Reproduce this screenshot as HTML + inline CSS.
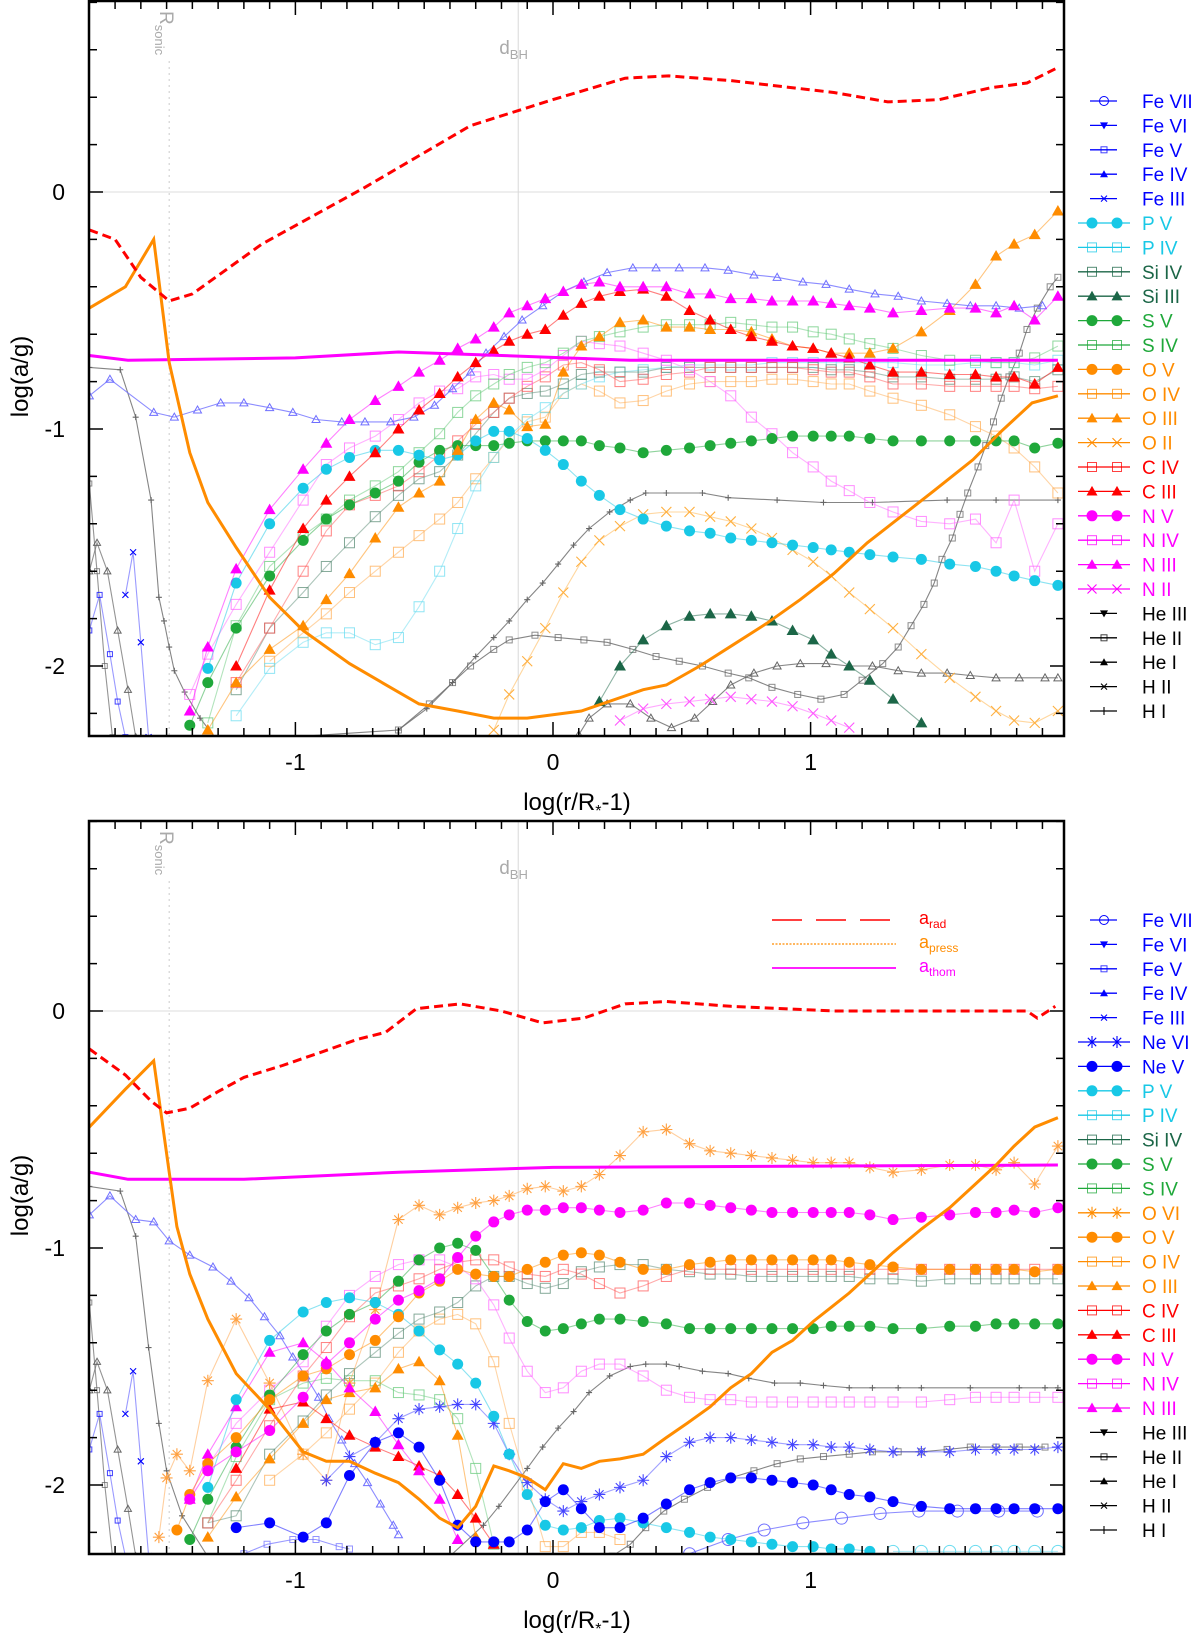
<!DOCTYPE html>
<html><head><meta charset="utf-8"><title>log(a/g) vs log(r/R*-1)</title>
<style>
html,body{margin:0;padding:0;background:#fff;}
svg{display:block;font-family:"Liberation Sans",Arial,sans-serif;}
</style></head>
<body>
<svg id="chart" xmlns="http://www.w3.org/2000/svg" width="1200" height="1636" viewBox="0 0 1200 1636">
<rect x="0" y="0" width="1200" height="1636" fill="#fff"/>
</svg>
<script>
// ---------- DATA (log(r/R*-1), log(a/g)) ----------
const GRID = [-1.41,-1.34,-1.23,-1.10,-0.97,-0.88,-0.79,-0.69,-0.60,-0.52,-0.44,-0.37,-0.30,-0.23,-0.17,-0.10,-0.03,0.04,0.11,0.18,0.26,0.35,0.44,0.53,0.61,0.69,0.77,0.85,0.93,1.01,1.08,1.15,1.23,1.32,1.43,1.54,1.64,1.72,1.79,1.87,1.96];
const X_TICKS = [-1,0,1];
const X_TICK_LABELS = ["-1","0","1"];
const Y_TICKS = [0,-1,-2];
const Y_TICK_LABELS = ["0","-1","-2"];

// top panel
const T_ARAD_X = [-1.80,-1.70,-1.60,-1.49,-1.40,-1.13,-0.73,-0.32,0,0.28,0.45,0.69,1.09,1.30,1.50,1.70,1.84,1.95];
const T_ARAD_Y = [-0.16,-0.20,-0.36,-0.46,-0.43,-0.22,0.02,0.28,0.39,0.48,0.49,0.47,0.42,0.38,0.39,0.44,0.46,0.52];
const T_APRESS_X = [-1.80,-1.66,-1.55,-1.49,-1.41,-1.34,-1.23,-1.10,-0.97,-0.79,-0.60,-0.52,-0.37,-0.23,-0.10,0.11,0.35,0.44,0.57,0.70,0.83,0.96,1.09,1.22,1.35,1.48,1.63,1.74,1.86,1.96];
const T_APRESS_Y = [-0.49,-0.40,-0.20,-0.72,-1.10,-1.31,-1.50,-1.71,-1.85,-1.99,-2.11,-2.16,-2.19,-2.22,-2.22,-2.19,-2.10,-2.08,-2.00,-1.91,-1.82,-1.72,-1.61,-1.48,-1.37,-1.26,-1.13,-1.01,-0.89,-0.86];
const T_ATHOM_X = [-1.80,-1.65,-1.0,-0.6,-0.2,0.3,1.96];
const T_ATHOM_Y = [-0.69,-0.71,-0.70,-0.675,-0.69,-0.71,-0.71];
const T_NIII = [-2.19,-1.92,-1.59,-1.34,-1.17,-1.06,-0.96,-0.88,-0.82,-0.76,-0.71,-0.66,-0.62,-0.57,-0.51,-0.48,-0.45,-0.42,-0.39,-0.38,-0.40,-0.40,-0.40,-0.43,-0.43,-0.45,-0.45,-0.46,-0.46,-0.46,-0.47,-0.48,-0.49,-0.51,-0.50,-0.49,-0.49,-0.51,-0.48,-0.54,-0.44];
const T_PV = [null,-2.01,-1.65,-1.40,-1.25,-1.17,-1.12,-1.09,-1.09,-1.11,-1.13,-1.11,-1.05,-1.01,-1.01,-1.04,-1.09,-1.15,-1.22,-1.28,-1.34,-1.38,-1.41,-1.43,-1.44,-1.46,-1.47,-1.48,-1.49,-1.50,-1.51,-1.52,-1.53,-1.54,-1.55,-1.57,-1.58,-1.60,-1.62,-1.64,-1.66];
const T_SV = [-2.25,-2.07,-1.84,-1.62,-1.47,-1.38,-1.32,-1.27,-1.22,-1.14,-1.09,-1.07,-1.07,-1.07,-1.06,-1.05,-1.05,-1.05,-1.05,-1.07,-1.08,-1.10,-1.09,-1.08,-1.07,-1.06,-1.05,-1.04,-1.03,-1.03,-1.03,-1.03,-1.04,-1.05,-1.05,-1.05,-1.05,-1.05,-1.05,-1.08,-1.06];
const T_CIII = [null,null,-2.00,-1.68,-1.42,-1.30,-1.20,-1.10,-1.00,-0.92,-0.85,-0.78,-0.72,-0.67,-0.63,-0.60,-0.58,-0.52,-0.47,-0.44,-0.42,-0.41,-0.44,-0.50,-0.54,-0.58,-0.61,-0.63,-0.65,-0.66,-0.68,-0.70,-0.73,-0.76,-0.76,-0.77,-0.77,-0.78,-0.78,-0.81,-0.74];
const T_OIII = [null,-2.27,-2.07,-1.93,-1.83,-1.72,-1.61,-1.46,-1.33,-1.27,-1.22,-1.09,-0.96,-0.89,-0.92,-0.99,-0.98,-0.76,-0.65,-0.61,-0.55,-0.54,-0.57,-0.57,-0.58,-0.58,-0.59,-0.62,-0.65,-0.66,-0.68,-0.68,-0.68,-0.66,-0.59,-0.50,-0.39,-0.27,-0.22,-0.18,-0.08];
const T_SIV = [null,-2.24,-1.83,-1.58,-1.45,-1.38,-1.30,-1.24,-1.18,-1.10,-1.02,-0.93,-0.86,-0.81,-0.77,-0.74,-0.72,-0.68,-0.63,-0.61,-0.59,-0.57,-0.56,-0.56,-0.56,-0.55,-0.56,-0.57,-0.57,-0.59,-0.60,-0.62,-0.64,-0.66,-0.69,-0.71,-0.71,-0.72,-0.72,-0.70,-0.65];
const T_NIV = [-2.12,-1.95,-1.74,-1.52,-1.30,-1.15,-1.08,-1.03,-0.96,-0.89,-0.84,-0.83,-0.78,-0.77,-0.79,-0.79,-0.75,-0.69,-0.63,-0.64,-0.65,-0.68,-0.71,-0.75,-0.80,-0.86,-0.95,-1.02,-1.10,-1.16,-1.22,-1.26,-1.31,-1.35,-1.39,-1.40,-1.38,-1.48,-1.30,-1.60,-1.40];
const T_CIV = [null,null,-2.07,-1.84,-1.60,-1.43,-1.32,-1.28,-1.24,-1.18,-1.11,-1.05,-0.98,-0.93,-0.87,-0.82,-0.78,-0.73,-0.72,-0.75,-0.80,-0.79,-0.77,-0.76,-0.74,-0.74,-0.74,-0.74,-0.74,-0.75,-0.76,-0.76,-0.78,-0.81,-0.81,-0.82,-0.82,-0.82,-0.82,-0.83,-0.82];
const T_PIV = [null,null,-2.21,-2.01,-1.90,-1.86,-1.86,-1.91,-1.88,-1.75,-1.60,-1.42,-1.24,-1.12,-1.03,-0.96,-0.91,-0.85,-0.81,-0.78,-0.76,-0.75,-0.74,-0.73,-0.73,-0.73,-0.73,-0.72,-0.72,-0.72,-0.72,-0.72,-0.72,-0.72,-0.73,-0.73,-0.72,-0.72,-0.72,-0.73,-0.71];
const T_SIIV = [null,null,-2.10,-1.84,-1.69,-1.58,-1.48,-1.37,-1.28,-1.21,-1.18,-1.11,-1.02,-0.93,-0.87,-0.85,-0.84,-0.81,-0.77,-0.76,-0.76,-0.76,-0.74,-0.74,-0.74,-0.74,-0.74,-0.74,-0.74,-0.74,-0.75,-0.75,-0.76,-0.78,-0.78,-0.79,-0.79,-0.79,-0.78,-0.80,-0.75];
const T_OIV = [null,null,null,-1.98,-1.86,-1.78,-1.69,-1.60,-1.52,-1.45,-1.38,-1.31,-1.21,-1.12,-1.04,-0.97,-0.95,-0.85,-0.81,-0.84,-0.89,-0.88,-0.84,-0.81,-0.80,-0.80,-0.80,-0.79,-0.79,-0.80,-0.81,-0.81,-0.84,-0.87,-0.90,-0.94,-0.99,-1.03,-1.08,-1.16,-1.27];
const T_OII = [null,null,null,null,null,null,null,null,null,null,null,null,null,-2.27,-2.12,-1.98,-1.84,-1.69,-1.56,-1.47,-1.41,-1.36,-1.35,-1.35,-1.37,-1.39,-1.42,-1.46,-1.51,-1.56,-1.62,-1.69,-1.76,-1.84,-1.95,-2.05,-2.13,-2.19,-2.23,-2.24,-2.19];
const T_SIIII = [null,null,null,null,null,null,null,null,null,null,null,null,null,null,null,null,null,null,null,-2.15,-2.00,-1.89,-1.83,-1.79,-1.78,-1.78,-1.79,-1.81,-1.85,-1.89,-1.95,-2.00,-2.06,-2.14,-2.24];
const T_NII = [null,null,null,null,null,null,null,null,null,null,null,null,null,null,null,null,null,null,null,null,-2.23,-2.18,-2.16,-2.15,-2.14,-2.13,-2.14,-2.15,-2.17,-2.20,-2.23,-2.26];
const T_FEIV_X = [-1.80,-1.72,-1.55,-1.47,-1.38,-1.29,-1.20,-1.10,-1.01,-0.92,-0.82,-0.73,-0.63,-0.54,-0.46,-0.39,-0.32,-0.26,-0.19,-0.12,-0.04,0.04,0.12,0.21,0.31,0.40,0.49,0.59,0.68,0.78,0.87,0.97,1.06,1.15,1.25,1.34,1.43,1.53,1.62,1.72,1.81,1.90];
const T_FEIV_Y = [-0.86,-0.79,-0.93,-0.95,-0.92,-0.89,-0.89,-0.91,-0.93,-0.96,-0.97,-0.97,-0.97,-0.95,-0.90,-0.83,-0.76,-0.68,-0.61,-0.54,-0.48,-0.42,-0.38,-0.34,-0.32,-0.32,-0.32,-0.32,-0.33,-0.35,-0.36,-0.38,-0.39,-0.41,-0.43,-0.44,-0.46,-0.47,-0.48,-0.48,-0.49,-0.48];
const T_HI_X = [-1.80,-1.68,-1.62,-1.56,-1.53,-1.51,-1.49,-1.47,-1.43,-1.37,-1.30,-0.60,-0.49,-0.39,-0.30,-0.23,-0.17,-0.10,-0.04,0.02,0.08,0.14,0.22,0.30,0.36,0.44,0.58,0.68,0.87,1.05,1.24,1.53,1.72,1.96];
const T_HI_Y = [-0.74,-0.75,-0.95,-1.30,-1.71,-1.81,-1.92,-2.02,-2.11,-2.22,-2.32,-2.27,-2.18,-2.07,-1.96,-1.88,-1.81,-1.72,-1.65,-1.57,-1.49,-1.42,-1.35,-1.30,-1.27,-1.27,-1.27,-1.29,-1.30,-1.31,-1.31,-1.30,-1.30,-1.30];
const T_HEII_X = [-0.60,-0.48,-0.39,-0.32,-0.23,-0.17,-0.07,0.02,0.12,0.21,0.31,0.40,0.49,0.58,0.68,0.76,0.85,0.95,1.04,1.13,1.20,1.28,1.34,1.39,1.44,1.48,1.51,1.55,1.58,1.61,1.65,1.68,1.71,1.74,1.77,1.81,1.84,1.88,1.93,1.96];
const T_HEII_Y = [-2.27,-2.16,-2.07,-2.00,-1.93,-1.89,-1.87,-1.88,-1.89,-1.90,-1.93,-1.96,-1.98,-2.00,-2.03,-2.05,-2.09,-2.12,-2.14,-2.12,-2.06,-1.99,-1.92,-1.83,-1.74,-1.65,-1.55,-1.46,-1.36,-1.27,-1.16,-1.07,-0.97,-0.87,-0.78,-0.68,-0.58,-0.49,-0.40,-0.36];
const T_HEI_X = [0.10,0.14,0.21,0.30,0.38,0.46,0.55,0.62,0.69,0.78,0.87,0.96,1.06,1.15,1.24,1.34,1.43,1.53,1.62,1.72,1.81,1.91,1.96];
const T_HEI_Y = [-2.29,-2.22,-2.16,-2.16,-2.22,-2.26,-2.22,-2.15,-2.08,-2.03,-2.00,-1.99,-1.99,-2.00,-2.00,-2.02,-2.03,-2.03,-2.04,-2.05,-2.05,-2.05,-2.05];
const T_FEV_X = [-1.80,-1.76,-1.72,-1.69,-1.66];
const T_FEV_Y = [-1.85,-1.70,-1.95,-2.15,-2.30];
const T_FEIII_X = [-1.66,-1.63,-1.60,-1.57];
const T_FEIII_Y = [-1.70,-1.52,-1.90,-2.30];
const T_HEIL_X = [-1.80,-1.77,-1.73,-1.69,-1.65,-1.62];
const T_HEIL_Y = [-1.60,-1.48,-1.60,-1.85,-2.10,-2.30];
const T_HEIIL_X = [-1.80,-1.77,-1.74,-1.71];
const T_HEIIL_Y = [-1.23,-1.60,-2.00,-2.30];

// bottom panel
const B_ARAD_X = [-1.80,-1.66,-1.56,-1.50,-1.41,-1.30,-1.20,-1.05,-0.89,-0.76,-0.65,-0.53,-0.36,-0.20,-0.04,0.12,0.28,0.44,0.69,1.09,1.50,1.84,1.88,1.95];
const B_ARAD_Y = [-0.16,-0.27,-0.38,-0.43,-0.41,-0.34,-0.28,-0.23,-0.17,-0.12,-0.09,0.01,0.03,0.00,-0.05,-0.03,0.03,0.04,0.02,0.00,0.00,0.00,-0.03,0.02];
const B_APRESS_X = [-1.80,-1.66,-1.55,-1.49,-1.46,-1.41,-1.34,-1.23,-1.10,-0.97,-0.88,-0.79,-0.69,-0.60,-0.52,-0.44,-0.37,-0.30,-0.23,-0.17,-0.10,-0.03,0.04,0.11,0.18,0.26,0.35,0.44,0.52,0.61,0.69,0.77,0.85,0.93,1.01,1.08,1.15,1.23,1.32,1.43,1.54,1.64,1.72,1.79,1.87,1.96];
const B_APRESS_Y = [-0.49,-0.33,-0.21,-0.68,-0.91,-1.11,-1.30,-1.53,-1.68,-1.86,-1.90,-1.90,-1.95,-1.99,-2.06,-2.14,-2.18,-2.09,-1.92,-1.94,-1.97,-2.02,-1.91,-1.93,-1.90,-1.89,-1.87,-1.80,-1.74,-1.67,-1.59,-1.53,-1.44,-1.39,-1.31,-1.25,-1.19,-1.11,-1.02,-0.92,-0.83,-0.73,-0.65,-0.57,-0.49,-0.45];
const B_ATHOM_X = [-1.80,-1.65,-1.2,-0.6,0,1.96];
const B_ATHOM_Y = [-0.68,-0.71,-0.71,-0.68,-0.66,-0.65];
const B_NV = [-2.06,-1.94,-1.86,-1.77,-1.63,-1.49,-1.40,-1.30,-1.22,-1.18,-1.13,-1.04,-0.95,-0.89,-0.86,-0.84,-0.84,-0.83,-0.83,-0.84,-0.85,-0.84,-0.81,-0.81,-0.82,-0.83,-0.84,-0.85,-0.85,-0.85,-0.85,-0.85,-0.86,-0.88,-0.87,-0.86,-0.85,-0.85,-0.84,-0.85,-0.83];
const B_OVI_X = [-1.53,-1.50,-1.46].concat(GRID);
const B_OVI_Y = [-2.22,-1.97,-1.87,-1.94,-1.56,-1.30,-1.57,-1.87,-1.98,-1.57,-1.26,-0.88,-0.82,-0.86,-0.83,-0.81,-0.80,-0.78,-0.75,-0.74,-0.76,-0.74,-0.69,-0.61,-0.51,-0.50,-0.56,-0.59,-0.60,-0.61,-0.62,-0.63,-0.64,-0.64,-0.64,-0.66,-0.68,-0.67,-0.65,-0.65,-0.67,-0.64,-0.73,-0.57];
const B_OV_X = [-1.46].concat(GRID);
const B_OV_Y = [-2.19,-2.04,-1.91,-1.80,-1.64,-1.54,-1.51,-1.45,-1.39,-1.29,-1.19,-1.14,-1.09,-1.11,-1.12,-1.12,-1.09,-1.06,-1.03,-1.02,-1.03,-1.06,-1.09,-1.09,-1.07,-1.06,-1.05,-1.05,-1.05,-1.05,-1.05,-1.05,-1.06,-1.07,-1.08,-1.09,-1.09,-1.09,-1.09,-1.09,-1.10,-1.09];
const B_SV = [-2.23,-2.06,-1.84,-1.62,-1.45,-1.35,-1.28,-1.23,-1.14,-1.05,-1.00,-0.98,-1.01,-1.12,-1.22,-1.31,-1.35,-1.34,-1.32,-1.30,-1.30,-1.31,-1.32,-1.34,-1.34,-1.34,-1.34,-1.34,-1.34,-1.34,-1.33,-1.33,-1.33,-1.34,-1.34,-1.33,-1.33,-1.32,-1.32,-1.32,-1.32];
const B_PV = [null,-2.01,-1.64,-1.39,-1.27,-1.23,-1.21,-1.23,-1.28,-1.35,-1.43,-1.49,-1.57,-1.71,-1.87,-2.04,-2.17,-2.19,-2.18,-2.15,-2.14,-2.16,-2.18,-2.20,-2.22,-2.23,-2.24,-2.25,-2.26,-2.26,-2.27,-2.27,-2.28];
const B_CIV = [null,-2.16,-1.98,-1.75,-1.54,-1.42,-1.29,-1.19,-1.16,-1.13,-1.09,-1.06,-1.05,-1.05,-1.08,-1.11,-1.12,-1.09,-1.11,-1.15,-1.19,-1.16,-1.12,-1.09,-1.09,-1.09,-1.09,-1.09,-1.09,-1.09,-1.09,-1.09,-1.09,-1.09,-1.09,-1.09,-1.09,-1.09,-1.09,-1.09,-1.09];
const B_NIV = [null,-1.92,-1.74,-1.60,-1.48,-1.33,-1.20,-1.12,-1.07,-1.05,-1.05,-1.08,-1.13,-1.24,-1.38,-1.52,-1.61,-1.59,-1.52,-1.49,-1.49,-1.54,-1.60,-1.63,-1.64,-1.64,-1.65,-1.65,-1.65,-1.65,-1.65,-1.65,-1.65,-1.65,-1.65,-1.64,-1.63,-1.63,-1.63,-1.63,-1.63];
const B_SIIV = [null,-2.16,-2.13,-1.87,-1.73,-1.62,-1.53,-1.44,-1.36,-1.30,-1.27,-1.23,-1.16,-1.12,-1.12,-1.15,-1.17,-1.15,-1.10,-1.08,-1.07,-1.07,-1.09,-1.10,-1.11,-1.11,-1.12,-1.12,-1.12,-1.12,-1.12,-1.12,-1.13,-1.13,-1.14,-1.13,-1.13,-1.13,-1.13,-1.13,-1.13];
const B_SIV = [null,-2.16,-1.88,-1.64,-1.57,-1.55,-1.56,-1.56,-1.61,-1.62,-1.64,-1.72,-1.93,-2.25];
const B_OIV = [null,null,null,-1.98,-1.87,-1.78,-1.68,-1.57,-1.44,-1.35,-1.30,-1.28,-1.32,-1.48,-1.74,-2.00,-2.26,-2.26,-2.20,-2.20,-2.23];
const B_OIII = [null,-2.22,-2.05,-1.89,-1.74,-1.64,-1.61,-1.59,-1.51,-1.48,-1.56,-1.79,-2.22];
const B_CIII = [null,null,-1.93,-1.68,-1.65,-1.72,-1.79,-1.84,-1.88,-1.92,-1.96,-2.04,-2.14,-2.25];
const B_NIII = [-2.06,-1.87,-1.67,-1.44,-1.40,-1.48,-1.59,-1.69,-1.83,-1.94,-2.06,-2.23];
const B_NEVI = [null,null,null,null,null,-1.98,-1.88,-1.82,-1.72,-1.68,-1.67,-1.66,-1.66,-1.74,-1.87,-1.99,-2.06,-2.11,-2.07,-2.04,-2.01,-1.98,-1.88,-1.82,-1.80,-1.80,-1.81,-1.82,-1.83,-1.83,-1.84,-1.84,-1.85,-1.86,-1.86,-1.86,-1.85,-1.85,-1.85,-1.85,-1.84];
const B_NEV = [null,null,-2.18,-2.16,-2.22,-2.16,-1.96,-1.82,-1.78,-1.84,-1.98,-2.17,-2.24,-2.24,-2.24,-2.19,-2.07,-2.02,-2.10,-2.18,-2.18,-2.14,-2.08,-2.02,-1.99,-1.97,-1.97,-1.98,-1.99,-2.00,-2.02,-2.04,-2.05,-2.07,-2.09,-2.10,-2.10,-2.10,-2.10,-2.10,-2.10];
const B_FEVII_X = [0.53,0.68,0.82,0.97,1.12,1.27,1.42,1.57,1.73,1.88];
const B_FEVII_Y = [-2.29,-2.23,-2.19,-2.16,-2.14,-2.12,-2.11,-2.11,-2.11,-2.11];
const B_PIVR_X = [1.32,1.43,1.54,1.64,1.72,1.79,1.87,1.96];
const B_PIVR_Y = [-2.28,-2.28,-2.28,-2.28,-2.28,-2.28,-2.28,-2.28];
const B_HI_X = [-1.80,-1.68,-1.62,-1.57,-1.53,-1.50,-1.44,-1.33,-0.40,-0.27,-0.21,-0.10,-0.04,0.02,0.08,0.14,0.22,0.30,0.36,0.44,0.49,0.58,0.68,0.76,0.86,0.96,1.05,1.15,1.24,1.34,1.43,1.62,1.81,1.91,1.96];
const B_HI_Y = [-0.74,-0.76,-0.95,-1.42,-1.74,-1.94,-2.13,-2.32,-2.30,-2.17,-2.09,-1.93,-1.84,-1.76,-1.69,-1.61,-1.54,-1.50,-1.49,-1.49,-1.50,-1.52,-1.53,-1.55,-1.57,-1.57,-1.58,-1.59,-1.59,-1.59,-1.59,-1.59,-1.59,-1.59,-1.59];
const B_HEII_X = [0.23,0.30,0.36,0.43,0.51,0.60,0.69,0.78,0.87,0.96,1.05,1.15,1.24,1.34,1.43,1.53,1.62,1.72,1.81,1.91];
const B_HEII_Y = [-2.30,-2.25,-2.18,-2.11,-2.06,-2.01,-1.97,-1.94,-1.91,-1.89,-1.88,-1.87,-1.86,-1.86,-1.86,-1.85,-1.84,-1.84,-1.84,-1.84];
const B_FEIV_X = [-1.80,-1.72,-1.62,-1.55,-1.49,-1.41,-1.32,-1.25,-1.18,-1.12,-1.06,-1.01,-0.96,-0.91,-0.87,-0.82,-0.77,-0.72,-0.67,-0.62,-0.60];
const B_FEIV_Y = [-0.86,-0.78,-0.88,-0.89,-0.97,-1.03,-1.08,-1.14,-1.21,-1.29,-1.37,-1.46,-1.54,-1.63,-1.72,-1.81,-1.91,-1.99,-2.08,-2.17,-2.21];
const B_FEV_X = [-1.20,-1.11,-1.01,-0.92,-0.83,-0.79];
const B_FEV_Y = [-2.29,-2.25,-2.23,-2.23,-2.26,-2.27];
const B_FEVL_X = [-1.80,-1.76,-1.72,-1.69,-1.66];
const B_FEVL_Y = [-1.85,-1.70,-1.95,-2.15,-2.30];
const B_FEIIIL_X = [-1.66,-1.63,-1.60,-1.57];
const B_FEIIIL_Y = [-1.70,-1.52,-1.90,-2.30];
const B_HEIL_X = [-1.80,-1.77,-1.73,-1.69,-1.65,-1.62];
const B_HEIL_Y = [-1.60,-1.48,-1.60,-1.85,-2.10,-2.30];
const B_HEIIL_X = [-1.80,-1.77,-1.74,-1.71];
const B_HEIIL_Y = [-1.23,-1.60,-2.00,-2.30];

// ---------- RENDER ----------
const NS = 'http://www.w3.org/2000/svg';
const svg = document.getElementById('chart');
const PX0 = 553, PXU = 257.6, PYU = 237, LEFT = 89, RIGHT = 1064;
const PANELS = {
  top: {y0: 192, top: 1, bottom: 736},
  bottom: {y0: 1011, top: 821, bottom: 1554}
};
const C = {fe:'#0000ff', feL:'#6f6fff', p:'#18c8e6', si:'#1b6647', s:'#1fa83a', o:'#ff8c00', c:'#ff0000', n:'#ff00ff', he:'#000000', heL:'#666666'};

function xs(x){ return PX0 + PXU * x; }
function ys(p, y){ return PANELS[p].y0 - PYU * y; }
function mkEl(tag, parent){ const e = document.createElementNS(NS, tag); parent.appendChild(e); return e; }

function marker(g, type, cx, cy, col, s, name){
  let m;
  if (type === 'circle' || type === 'ocircle'){
    m = mkEl('circle', g); m.setAttribute('cx', cx); m.setAttribute('cy', cy); m.setAttribute('r', s);
    if (type === 'circle'){ m.setAttribute('fill', col); } else { m.setAttribute('fill', 'none'); m.setAttribute('stroke', col); m.setAttribute('stroke-width', 1); }
  } else if (type === 'osq'){
    m = mkEl('rect', g); m.setAttribute('x', cx - s); m.setAttribute('y', cy - s); m.setAttribute('width', 2*s); m.setAttribute('height', 2*s);
    m.setAttribute('fill', 'none'); m.setAttribute('stroke', col); m.setAttribute('stroke-width', 1); m.setAttribute('stroke-opacity', 0.75);
  } else if (type === 'fsq'){
    m = mkEl('rect', g); m.setAttribute('x', cx - s); m.setAttribute('y', cy - s); m.setAttribute('width', 2*s); m.setAttribute('height', 2*s); m.setAttribute('fill', col);
  } else if (type === 'ftri' || type === 'otri' || type === 'dtri'){
    m = mkEl('polygon', g);
    const d = type === 'dtri' ? -1 : 1;
    m.setAttribute('points', cx + ',' + (cy - d*s) + ' ' + (cx - s) + ',' + (cy + d*s*0.75) + ' ' + (cx + s) + ',' + (cy + d*s*0.75));
    if (type === 'otri'){ m.setAttribute('fill', 'none'); m.setAttribute('stroke', col); m.setAttribute('stroke-width', 1); } else { m.setAttribute('fill', col); }
  } else {
    m = mkEl('path', g);
    let d = '';
    if (type === 'x'){ d = 'M'+(cx-s)+','+(cy-s)+'L'+(cx+s)+','+(cy+s)+'M'+(cx-s)+','+(cy+s)+'L'+(cx+s)+','+(cy-s); }
    else if (type === 'plus'){ d = 'M'+(cx-s)+','+cy+'L'+(cx+s)+','+cy+'M'+cx+','+(cy-s)+'L'+cx+','+(cy+s); }
    else { d = 'M'+(cx-s)+','+cy+'L'+(cx+s)+','+cy+'M'+cx+','+(cy-s)+'L'+cx+','+(cy+s)+'M'+(cx-s*0.7)+','+(cy-s*0.7)+'L'+(cx+s*0.7)+','+(cy+s*0.7)+'M'+(cx-s*0.7)+','+(cy+s*0.7)+'L'+(cx+s*0.7)+','+(cy-s*0.7); }
    m.setAttribute('d', d); m.setAttribute('fill', 'none'); m.setAttribute('stroke', col); m.setAttribute('stroke-width', 1.1);
  }
  
  
  return m;
}

function series(p, xArr, yArr, opt){
  const g = mkEl('g', PANELS[p].g);
  
  
  let d = '', pen = false;
  const pts = [];
  for (let i = 0; i < yArr.length; i++){
    const v = yArr[i];
    if (v === null || v === undefined || xArr[i] === undefined){ pen = false; continue; }
    const X = xs(xArr[i]), Y = ys(p, v);
    d += (pen ? 'L' : 'M') + X.toFixed(1) + ',' + Y.toFixed(1);
    pen = true;
    pts.push([X, Y]);
  }
  const line = mkEl('path', g);
  line.setAttribute('d', d);
  line.setAttribute('fill', 'none');
  line.setAttribute('stroke', opt.lc || opt.c);
  line.setAttribute('stroke-width', opt.w || 1.1);
  line.setAttribute('stroke-opacity', opt.op === undefined ? 0.5 : opt.op);
  if (opt.dash) line.setAttribute('stroke-dasharray', opt.dash);
  
  
  if (opt.m){ pts.forEach(pt => marker(g, opt.m, pt[0], pt[1], opt.c, opt.s || 5, opt.name + '-point')); }
}

function buildPanel(p){
  const P = PANELS[p];
  const root = mkEl('g', svg);
  
  
  const defs = mkEl('defs', root);
  const cp = mkEl('clipPath', defs); cp.setAttribute('id', 'clip-' + p);
  const cr = mkEl('rect', cp); cr.setAttribute('x', LEFT); cr.setAttribute('y', P.top); cr.setAttribute('width', RIGHT - LEFT); cr.setAttribute('height', P.bottom - P.top);
  // reference lines
  const zl = mkEl('line', root); zl.setAttribute('x1', LEFT); zl.setAttribute('x2', RIGHT); zl.setAttribute('y1', ys(p, 0)); zl.setAttribute('y2', ys(p, 0)); zl.setAttribute('stroke', '#dddddd'); zl.setAttribute('stroke-width', 1);
   
  const bh = mkEl('line', root); bh.setAttribute('x1', xs(-0.135)); bh.setAttribute('x2', xs(-0.135)); bh.setAttribute('y1', P.top); bh.setAttribute('y2', P.bottom); bh.setAttribute('stroke', '#d8d8d8'); bh.setAttribute('stroke-width', 1);
   
  const rs = mkEl('line', root); rs.setAttribute('x1', xs(-1.49)); rs.setAttribute('x2', xs(-1.49)); rs.setAttribute('y1', P.top + 60); rs.setAttribute('y2', P.bottom); rs.setAttribute('stroke', '#cccccc'); rs.setAttribute('stroke-width', 1); rs.setAttribute('stroke-dasharray', '2,4');
   
  const bht = mkEl('text', root); bht.setAttribute('x', xs(-0.135) - 19); bht.setAttribute('y', P.top + 53); bht.setAttribute('font-size', 19); bht.setAttribute('fill', '#aaaaaa');
  bht.innerHTML = 'd<tspan font-size="13" dy="5">BH</tspan>';
   
  const rst = mkEl('text', root); rst.setAttribute('transform', 'translate(' + (xs(-1.49) - 9) + ',' + (P.top + 10) + ') rotate(90)'); rst.setAttribute('font-size', 19); rst.setAttribute('fill', '#aaaaaa');
  rst.innerHTML = 'R<tspan font-size="13" dy="5">sonic</tspan>';
   
  const g = mkEl('g', root); g.setAttribute('clip-path', 'url(#clip-' + p + ')');
   
  P.g = g; P.root = root;
}

function buildAxes(p){
  const P = PANELS[p], root = P.root;
  const ax = mkEl('g', root);  
  let d = '';
  for (let k = -18; k <= 19; k++){
    const X = xs(k / 10), len = (k % 10 === 0) ? 14 : 8;
    if (X < LEFT || X > RIGHT) continue;
    d += 'M' + X + ',' + P.bottom + 'v' + (-len) + 'M' + X + ',' + P.top + 'v' + len;
  }
  for (let k = -11; k <= 4; k++){
    const Y = ys(p, k / 5), len = (k % 5 === 0) ? 14 : 8;
    if (Y < P.top || Y > P.bottom) continue;
    d += 'M' + LEFT + ',' + Y + 'h' + len + 'M' + RIGHT + ',' + Y + 'h' + (-len);
  }
  const t = mkEl('path', ax); t.setAttribute('d', d); t.setAttribute('stroke', '#000'); t.setAttribute('stroke-width', 1.5); t.setAttribute('fill', 'none');
   
  const fr = mkEl('rect', ax); fr.setAttribute('x', LEFT); fr.setAttribute('y', P.top); fr.setAttribute('width', RIGHT - LEFT); fr.setAttribute('height', P.bottom - P.top);
  fr.setAttribute('fill', 'none'); fr.setAttribute('stroke', '#000'); fr.setAttribute('stroke-width', 2.5);
   
  X_TICKS.forEach((v, i) => {
    const tx = mkEl('text', ax); tx.setAttribute('x', xs(v)); tx.setAttribute('y', P.bottom + 34); tx.setAttribute('font-size', 23); tx.setAttribute('text-anchor', 'middle');
    tx.textContent = X_TICK_LABELS[i];
     
  });
  Y_TICKS.forEach((v, i) => {
    const ty = mkEl('text', ax); ty.setAttribute('x', 65); ty.setAttribute('y', ys(p, v) + 8); ty.setAttribute('font-size', 23); ty.setAttribute('text-anchor', 'end');
    ty.textContent = Y_TICK_LABELS[i];
     
  });
  const xt = mkEl('text', ax); xt.setAttribute('x', 577); xt.setAttribute('y', P.bottom + 74); xt.setAttribute('font-size', 24); xt.setAttribute('text-anchor', 'middle');
  xt.innerHTML = 'log(r/R<tspan font-size="16" dy="6">*</tspan><tspan dy="-6">-1)</tspan>';
   
  const yt = mkEl('text', ax); yt.setAttribute('transform', 'translate(28,' + ((P.top + P.bottom) / 2 + 8) + ') rotate(-90)'); yt.setAttribute('font-size', 24); yt.setAttribute('text-anchor', 'middle');
  yt.textContent = 'log(a/g)';
   
}

function legend(top0, entries){
  const g = mkEl('g', svg);  
  entries.forEach((e, i) => {
    const Y = top0 + i * 24.4;
    const eg = mkEl('g', g);  
    const l = mkEl('line', eg);
    l.setAttribute('x1', e.dbl ? 1078 : 1090); l.setAttribute('x2', e.dbl ? 1130 : 1117); l.setAttribute('y1', Y); l.setAttribute('y2', Y);
    l.setAttribute('stroke', e.c); l.setAttribute('stroke-width', 1.3);
     
    if (e.dbl){ marker(eg, e.m, 1092, Y, e.c, e.s, 'legend-marker'); marker(eg, e.m, 1117, Y, e.c, e.s, 'legend-marker'); }
    else { marker(eg, e.m, 1104, Y, e.c, e.s, 'legend-marker'); }
    const t = mkEl('text', eg); t.setAttribute('x', 1142); t.setAttribute('y', Y + 7); t.setAttribute('font-size', 19); t.setAttribute('fill', e.c);
    t.textContent = e.t;
     
  });
}

// ---------- TOP PANEL ----------
buildPanel('top');
series('top', T_HEIIL_X, T_HEIIL_Y, {name:'he-ii-left', c:C.heL, m:'osq', s:2.5, op:0.7});
series('top', T_HEIL_X, T_HEIL_Y, {name:'he-i-left', c:C.heL, m:'otri', s:3.5, op:0.7});
series('top', T_FEV_X, T_FEV_Y, {name:'fe-v', c:C.fe, lc:C.feL, m:'osq', s:2.5, op:0.7});
series('top', T_FEIII_X, T_FEIII_Y, {name:'fe-iii', c:C.fe, lc:C.feL, m:'x', s:3, op:0.7});
series('top', T_HI_X, T_HI_Y, {name:'h-i', c:C.heL, m:'plus', s:3, op:0.8});
series('top', T_HEII_X, T_HEII_Y, {name:'he-ii', c:C.heL, m:'osq', s:3, op:0.8});
series('top', T_HEI_X, T_HEI_Y, {name:'he-i', c:C.heL, m:'otri', s:4, op:0.8});
series('top', GRID, T_OII, {name:'o-ii', c:'#ffb040', m:'x', s:5});
series('top', GRID, T_NII, {name:'n-ii', c:'#ff55ff', m:'x', s:5});
series('top', GRID, T_SIIII, {name:'si-iii', c:C.si, m:'ftri', s:6});
series('top', GRID, T_OIV, {name:'o-iv', c:'#ffab50', m:'osq', s:5});
series('top', GRID, T_PIV, {name:'p-iv', c:'#6adcf0', m:'osq', s:5});
series('top', GRID, T_SIIV, {name:'si-iv', c:'#5b8c76', m:'osq', s:5});
series('top', GRID, T_CIV, {name:'c-iv', c:'#ff5555', m:'osq', s:5});
series('top', GRID, T_NIV, {name:'n-iv', c:'#ff66ff', m:'osq', s:5});
series('top', GRID, T_SIV, {name:'s-iv', c:'#66c97a', m:'osq', s:5});
series('top', T_FEIV_X, T_FEIV_Y, {name:'fe-iv', c:C.feL, m:'otri', s:4, op:0.8});
series('top', GRID, T_SV, {name:'s-v', c:C.s, m:'circle', s:5.5});
series('top', GRID, T_PV, {name:'p-v', c:C.p, m:'circle', s:5.5});
series('top', GRID, T_OIII, {name:'o-iii', c:C.o, m:'ftri', s:6});
series('top', GRID, T_CIII, {name:'c-iii', c:C.c, m:'ftri', s:6});
series('top', GRID, T_NIII, {name:'n-iii', c:C.n, m:'ftri', s:6});
series('top', T_ATHOM_X, T_ATHOM_Y, {name:'a-thom', c:C.n, w:3, op:1});
series('top', T_APRESS_X, T_APRESS_Y, {name:'a-press', c:C.o, w:3, op:1});
series('top', T_ARAD_X, T_ARAD_Y, {name:'a-rad', c:C.c, w:3, op:1, dash:'9,5'});
buildAxes('top');

// ---------- BOTTOM PANEL ----------
buildPanel('bottom');
series('bottom', B_HEIIL_X, B_HEIIL_Y, {name:'he-ii-left', c:C.heL, m:'osq', s:2.5, op:0.7});
series('bottom', B_HEIL_X, B_HEIL_Y, {name:'he-i-left', c:C.heL, m:'otri', s:3.5, op:0.7});
series('bottom', B_FEVL_X, B_FEVL_Y, {name:'fe-v-left', c:C.fe, lc:C.feL, m:'osq', s:2.5, op:0.7});
series('bottom', B_FEIIIL_X, B_FEIIIL_Y, {name:'fe-iii', c:C.fe, lc:C.feL, m:'x', s:3, op:0.7});
series('bottom', B_FEV_X, B_FEV_Y, {name:'fe-v', c:C.feL, m:'osq', s:3, op:0.7});
series('bottom', B_HI_X, B_HI_Y, {name:'h-i', c:C.heL, m:'plus', s:3, op:0.8});
series('bottom', B_HEII_X, B_HEII_Y, {name:'he-ii', c:C.heL, m:'osq', s:3, op:0.8});
series('bottom', B_FEIV_X, B_FEIV_Y, {name:'fe-iv', c:C.feL, m:'otri', s:4, op:0.8});
series('bottom', B_FEVII_X, B_FEVII_Y, {name:'fe-vii', c:C.feL, m:'ocircle', s:6, op:0.8});
series('bottom', B_PIVR_X, B_PIVR_Y, {name:'p-iv-tail', c:'#6adcf0', m:'ocircle', s:6});
series('bottom', GRID, B_OIV, {name:'o-iv', c:'#ffab50', m:'osq', s:5});
series('bottom', GRID, B_SIV, {name:'s-iv', c:'#66c97a', m:'osq', s:5});
series('bottom', GRID, B_SIIV, {name:'si-iv', c:'#5b8c76', m:'osq', s:5});
series('bottom', GRID, B_CIV, {name:'c-iv', c:'#ff5555', m:'osq', s:5});
series('bottom', GRID, B_NIV, {name:'n-iv', c:'#ff66ff', m:'osq', s:5});
series('bottom', B_OVI_X, B_OVI_Y, {name:'o-vi', c:'#ffa040', m:'star', s:6});
series('bottom', GRID, B_NEVI, {name:'ne-vi', c:'#4444ff', m:'star', s:6});
series('bottom', GRID, B_OIII, {name:'o-iii', c:C.o, m:'ftri', s:6});
series('bottom', GRID, B_CIII, {name:'c-iii', c:C.c, m:'ftri', s:6});
series('bottom', GRID, B_NIII, {name:'n-iii', c:C.n, m:'ftri', s:6});
series('bottom', GRID, B_SV, {name:'s-v', c:C.s, m:'circle', s:5.5});
series('bottom', GRID, B_PV, {name:'p-v', c:C.p, m:'circle', s:5.5});
series('bottom', B_OV_X, B_OV_Y, {name:'o-v', c:C.o, m:'circle', s:5.5});
series('bottom', GRID, B_NEV, {name:'ne-v', c:C.fe, m:'circle', s:5.5});
series('bottom', GRID, B_NV, {name:'n-v', c:C.n, m:'circle', s:5.5});
series('bottom', B_ATHOM_X, B_ATHOM_Y, {name:'a-thom', c:C.n, w:3, op:1});
series('bottom', B_APRESS_X, B_APRESS_Y, {name:'a-press', c:C.o, w:3, op:1});
series('bottom', B_ARAD_X, B_ARAD_Y, {name:'a-rad', c:C.c, w:3, op:1, dash:'9,5'});
buildAxes('bottom');

// ---------- LEGENDS ----------
legend(101, [
  {t:'Fe VII', c:C.fe, m:'ocircle', s:4.5}, {t:'Fe VI', c:C.fe, m:'dtri', s:4}, {t:'Fe V', c:C.fe, m:'osq', s:3},
  {t:'Fe IV', c:C.fe, m:'ftri', s:4}, {t:'Fe III', c:C.fe, m:'x', s:3},
  {t:'P V', c:C.p, m:'circle', s:5.5, dbl:1}, {t:'P IV', c:C.p, m:'osq', s:4.5, dbl:1},
  {t:'Si IV', c:C.si, m:'osq', s:4.5, dbl:1}, {t:'Si III', c:C.si, m:'ftri', s:5.5, dbl:1},
  {t:'S V', c:C.s, m:'circle', s:5.5, dbl:1}, {t:'S IV', c:C.s, m:'osq', s:4.5, dbl:1},
  {t:'O V', c:C.o, m:'circle', s:5.5, dbl:1}, {t:'O IV', c:C.o, m:'osq', s:4.5, dbl:1},
  {t:'O III', c:C.o, m:'ftri', s:5.5, dbl:1}, {t:'O II', c:C.o, m:'x', s:4.5, dbl:1},
  {t:'C IV', c:C.c, m:'osq', s:4.5, dbl:1}, {t:'C III', c:C.c, m:'ftri', s:5.5, dbl:1},
  {t:'N V', c:C.n, m:'circle', s:5.5, dbl:1}, {t:'N IV', c:C.n, m:'osq', s:4.5, dbl:1},
  {t:'N III', c:C.n, m:'ftri', s:5.5, dbl:1}, {t:'N II', c:C.n, m:'x', s:4.5, dbl:1},
  {t:'He III', c:C.he, m:'dtri', s:4}, {t:'He II', c:C.he, m:'osq', s:3},
  {t:'He I', c:C.he, m:'ftri', s:4}, {t:'H II', c:C.he, m:'x', s:3}, {t:'H I', c:C.he, m:'plus', s:4}
]);
legend(920, [
  {t:'Fe VII', c:C.fe, m:'ocircle', s:4.5}, {t:'Fe VI', c:C.fe, m:'dtri', s:4}, {t:'Fe V', c:C.fe, m:'osq', s:3},
  {t:'Fe IV', c:C.fe, m:'ftri', s:4}, {t:'Fe III', c:C.fe, m:'x', s:3},
  {t:'Ne VI', c:C.fe, m:'star', s:6, dbl:1}, {t:'Ne V', c:C.fe, m:'circle', s:5.5, dbl:1},
  {t:'P V', c:C.p, m:'circle', s:5.5, dbl:1}, {t:'P IV', c:C.p, m:'osq', s:4.5, dbl:1},
  {t:'Si IV', c:C.si, m:'osq', s:4.5, dbl:1},
  {t:'S V', c:C.s, m:'circle', s:5.5, dbl:1}, {t:'S IV', c:C.s, m:'osq', s:4.5, dbl:1},
  {t:'O VI', c:C.o, m:'star', s:6, dbl:1}, {t:'O V', c:C.o, m:'circle', s:5.5, dbl:1}, {t:'O IV', c:C.o, m:'osq', s:4.5, dbl:1},
  {t:'O III', c:C.o, m:'ftri', s:5.5, dbl:1},
  {t:'C IV', c:C.c, m:'osq', s:4.5, dbl:1}, {t:'C III', c:C.c, m:'ftri', s:5.5, dbl:1},
  {t:'N V', c:C.n, m:'circle', s:5.5, dbl:1}, {t:'N IV', c:C.n, m:'osq', s:4.5, dbl:1},
  {t:'N III', c:C.n, m:'ftri', s:5.5, dbl:1},
  {t:'He III', c:C.he, m:'dtri', s:4}, {t:'He II', c:C.he, m:'osq', s:3},
  {t:'He I', c:C.he, m:'ftri', s:4}, {t:'H II', c:C.he, m:'x', s:3}, {t:'H I', c:C.he, m:'plus', s:4}
]);

// acceleration legend (bottom panel)
(function(){
  const g = mkEl('g', svg);  
  const rows = [
    {t:'rad', c:C.c, dash:'30,14', w:1.6, y:920},
    {t:'press', c:C.o, dash:'2,1.5', w:1.2, y:944},
    {t:'thom', c:C.n, dash:'', w:1.8, y:968}
  ];
  rows.forEach(r => {
    const eg = mkEl('g', g);  
    const l = mkEl('line', eg); l.setAttribute('x1', 772); l.setAttribute('x2', 896); l.setAttribute('y1', r.y); l.setAttribute('y2', r.y);
    l.setAttribute('stroke', r.c); l.setAttribute('stroke-width', r.w); if (r.dash) l.setAttribute('stroke-dasharray', r.dash);
     
    const t = mkEl('text', eg); t.setAttribute('x', 919); t.setAttribute('y', r.y + 4); t.setAttribute('font-size', 18); t.setAttribute('fill', r.c);
    t.innerHTML = 'a<tspan font-size="12" dy="4">' + r.t + '</tspan>';
     
  });
})();
</script>
</body></html>
